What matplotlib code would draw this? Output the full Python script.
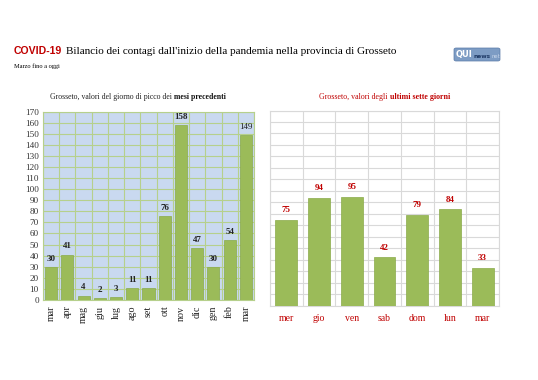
import matplotlib
matplotlib.use("Agg")
import matplotlib.pyplot as plt
from matplotlib.patches import FancyBboxPatch
import numpy as np

# ── Data ────────────────────────────────────────────────────────────────
mesi = ["mar", "apr", "mag", "giu", "lug", "ago", "set", "ott", "nov",
        "dic", "gen", "feb", "mar"]
picco = [30, 41, 4, 2, 3, 11, 11, 76, 158, 47, 30, 54, 149]

giorni = ["mer", "gio", "ven", "sab", "dom", "lun", "mar"]
ultimi = [75, 94, 95, 42, 79, 84, 33]

# ── Style ───────────────────────────────────────────────────────────────
SERIF = "Liberation Serif"
RED = "#c00000"
BAR = "#9bbb59"
BAR_EDGE = "#8aab4a"

plt.rcParams.update({"font.family": SERIF})

fig = plt.figure(figsize=(5.38, 3.8), dpi=100)
fig.patch.set_facecolor("white")


def chain(prev, txt, gap=0, **kw):
    """Place a text right after another one (same baseline)."""
    a = fig.add_artist(matplotlib.text.Annotation(
        txt, xy=(1, 0), xycoords=prev, xytext=(gap, 0),
        textcoords="offset points", ha="left", va="bottom", **kw))
    return a


# ── Header ──────────────────────────────────────────────────────────────
t1 = fig.text(14 / 538, 1 - 56 / 380, "COVID-19", family="Liberation Sans",
              fontsize=7.6, fontweight="bold", color=RED, va="bottom")
chain(t1, "Bilancio dei contagi dall'inizio della pandemia nella provincia di Grosseto",
      gap=2.5, fontsize=8.0, color="black")
fig.text(14 / 538, 1 - 68 / 380, "Marzo fino a oggi", fontsize=4.6,
         color="black", va="baseline")

# logo
logo = FancyBboxPatch((454 / 538, 1 - 61 / 380), 46 / 538, 13 / 380,
                      boxstyle="round,pad=0,rounding_size=0.004",
                      transform=fig.transFigure, facecolor="#7d9cc4",
                      edgecolor="#5a7aa8", linewidth=0.5)
fig.patches.append(logo)
q = fig.text(456 / 538, 1 - 59 / 380, "QUI", family="DejaVu Sans",
             fontsize=6, fontweight="bold", color="white", va="bottom")
n = chain(q, "news", gap=0.5, family="DejaVu Sans", fontsize=4.2,
          fontweight="bold", color="#1f3a66")
chain(n, "net", gap=0.5, family="DejaVu Sans", fontsize=3.8, color="#c8d6ea")

# ── Left chart: peak day of previous months ─────────────────────────────
axl = fig.add_axes([43 / 538, 1 - 300 / 380, 211 / 538, 188.5 / 380])
x = np.arange(len(mesi))
axl.set_facecolor("#c9d9f0")
axl.bar(x, picco, width=0.74, color=BAR, edgecolor=BAR_EDGE,
        linewidth=0.5, zorder=3)
axl.set_xlim(-0.5, len(mesi) - 0.5)
axl.set_ylim(0, 170)
axl.set_yticks(np.arange(0, 171, 10))
axl.set_xticks(x)
axl.set_xticklabels(mesi, rotation=90, fontsize=7.2, color="#222222")
axl.set_xticks(np.arange(-0.5, len(mesi), 1), minor=True)
axl.tick_params(axis="y", labelsize=6.6, length=0, pad=3, colors="#333333")
axl.tick_params(axis="x", which="both", length=0, pad=4)
axl.grid(axis="y", color="#b6d08c", linewidth=0.8, zorder=1)
axl.grid(axis="x", which="minor", color="#b6d08c", linewidth=0.8, zorder=1)
axl.grid(axis="x", which="major", visible=False)
for s in axl.spines.values():
    s.set_color("#b6d08c")
    s.set_linewidth(0.8)
for i, v in enumerate(picco):
    w = "normal" if i == len(picco) - 1 else "bold"
    axl.annotate(str(v), (i, v), xytext=(0, 3), textcoords="offset points",
                 ha="center", va="bottom", fontsize=6.5, fontweight=w,
                 color="#222222")

lt = fig.text(50 / 538, 1 - 101 / 380,
              "Grosseto, valori del giorno di picco dei", fontsize=5.6,
              color="#222222", va="bottom")
chain(lt, "mesi precedenti", gap=1.5, fontsize=5.6, fontweight="bold",
      color="#111111")

# ── Right chart: last seven days ────────────────────────────────────────
axr = fig.add_axes([270 / 538, 1 - 305.7 / 380, 229 / 538, 195.2 / 380])
xr = np.arange(len(giorni))
axr.set_facecolor("white")
axr.bar(xr, ultimi, width=0.67, color=BAR, edgecolor=BAR_EDGE,
        linewidth=0.5, zorder=3)
axr.set_xlim(-0.5, len(giorni) - 0.5)
axr.set_ylim(0, 170)
axr.set_yticks(np.arange(0, 171, 10))
axr.set_yticklabels([])
axr.set_xticks(xr)
axr.set_xticklabels(giorni, fontsize=7, color=RED)
axr.set_xticks(np.arange(-0.5, len(giorni), 1), minor=True)
axr.tick_params(axis="both", which="both", length=0)
axr.tick_params(axis="x", pad=6)
axr.grid(axis="y", color="#d9d9d9", linewidth=0.8, zorder=1)
axr.grid(axis="x", which="minor", color="#d9d9d9", linewidth=0.8, zorder=1)
axr.grid(axis="x", which="major", visible=False)
for s in axr.spines.values():
    s.set_color("#d9d9d9")
    s.set_linewidth(0.8)
for i, v in enumerate(ultimi):
    axr.annotate(str(v), (i, v), xytext=(0, 4), textcoords="offset points",
                 ha="center", va="bottom", fontsize=6.5, fontweight="bold",
                 color=RED)

rt = fig.text(319 / 538, 1 - 101 / 380, "Grosseto, valori degli",
              fontsize=5.7, color=RED, va="bottom")
chain(rt, "ultimi sette giorni", gap=1.5, fontsize=5.7, fontweight="bold",
      color=RED)

fig.savefig("out.png", dpi=100, facecolor="white")
plt.close(fig)
